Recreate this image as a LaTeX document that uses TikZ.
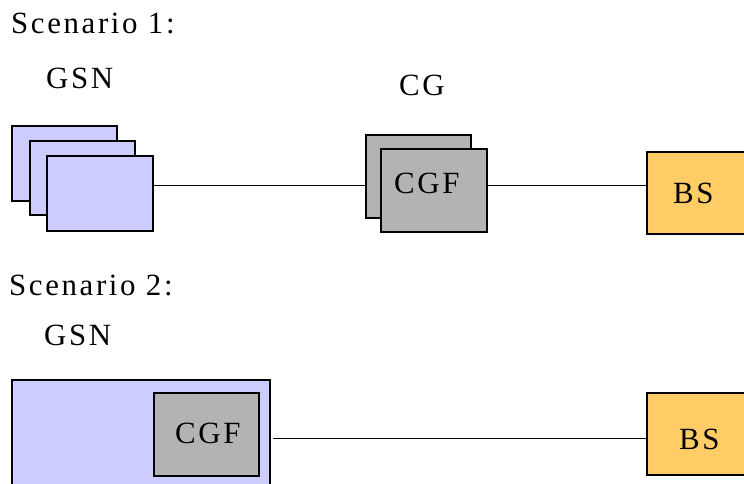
\documentclass[tikz,border=0pt]{standalone}
\usepackage{fontspec}
\setmainfont{Liberation Serif}[LetterSpace=8.5]
\definecolor{lav}{HTML}{CCCCFF}
\definecolor{cgray}{HTML}{B3B3B3}
\definecolor{bsor}{HTML}{FFCC66}
\begin{document}
\begin{tikzpicture}[x=1bp,y=-1bp,
  box/.style={draw=black,line width=2.3bp,rectangle,inner sep=0pt,anchor=north west},
  gsnbox/.style={box,fill=lav},
  cgbox/.style={box,fill=cgray},
  bsbox/.style={box,fill=bsor},
  lbl/.style={inner sep=0pt,anchor=base west,font=\fontsize{31}{36}\selectfont},
  conn/.style={draw=black,line width=1bp}]
\useasboundingbox (0,0) rectangle (744,484);
\clip (0,0) rectangle (744,484);
% Scenario 1
\node[lbl] (s1) at (11,34) {Scenario 1:};
\node[lbl] (gsn1) at (46,89) {GSN};
\node[lbl] (cg) at (399,96) {CG};
\node[gsnbox,minimum width=105bp,minimum height=75bp] (ga) at (11,125) {};
\node[gsnbox,minimum width=105bp,minimum height=74bp] (gb) at (29,140) {};
\node[gsnbox,minimum width=106bp,minimum height=75bp] (gc) at (46,155) {};
\node[cgbox,minimum width=105bp,minimum height=83bp] (cgb) at (365,134) {};
\node[cgbox,minimum width=106bp,minimum height=83bp] (cgf) at (380,148) {};
\node[lbl] (cgft) at (394,194) {CGF};
\node[bsbox,minimum width=104bp,minimum height=82bp] (bs1) at (646,151) {};
\node[lbl] (bs1t) at (673,204) {BS};
\coordinate (l1) at (0,186);
\draw[conn] (gc.east |- l1) -- (cgb.west |- l1);
\draw[conn] (cgf.east |- l1) -- (bs1.west |- l1);
% Scenario 2
\node[lbl] (s2) at (9,296) {Scenario 2:};
\node[lbl] (gsn2) at (44,345) {GSN};
\node[gsnbox,minimum width=258bp,minimum height=120bp] (gbig) at (11,379) {};
\node[cgbox,minimum width=105bp,minimum height=83bp] (cgf2) at (153,392) {};
\node[lbl] (cgf2t) at (175,443) {CGF};
\node[bsbox,minimum width=104bp,minimum height=82bp] (bs2) at (646,392) {};
\node[lbl] (bs2t) at (679,449) {BS};
\coordinate (l2) at (273,438);
\draw[conn] (l2) -- (bs2.west |- l2);
\end{tikzpicture}
\end{document}
